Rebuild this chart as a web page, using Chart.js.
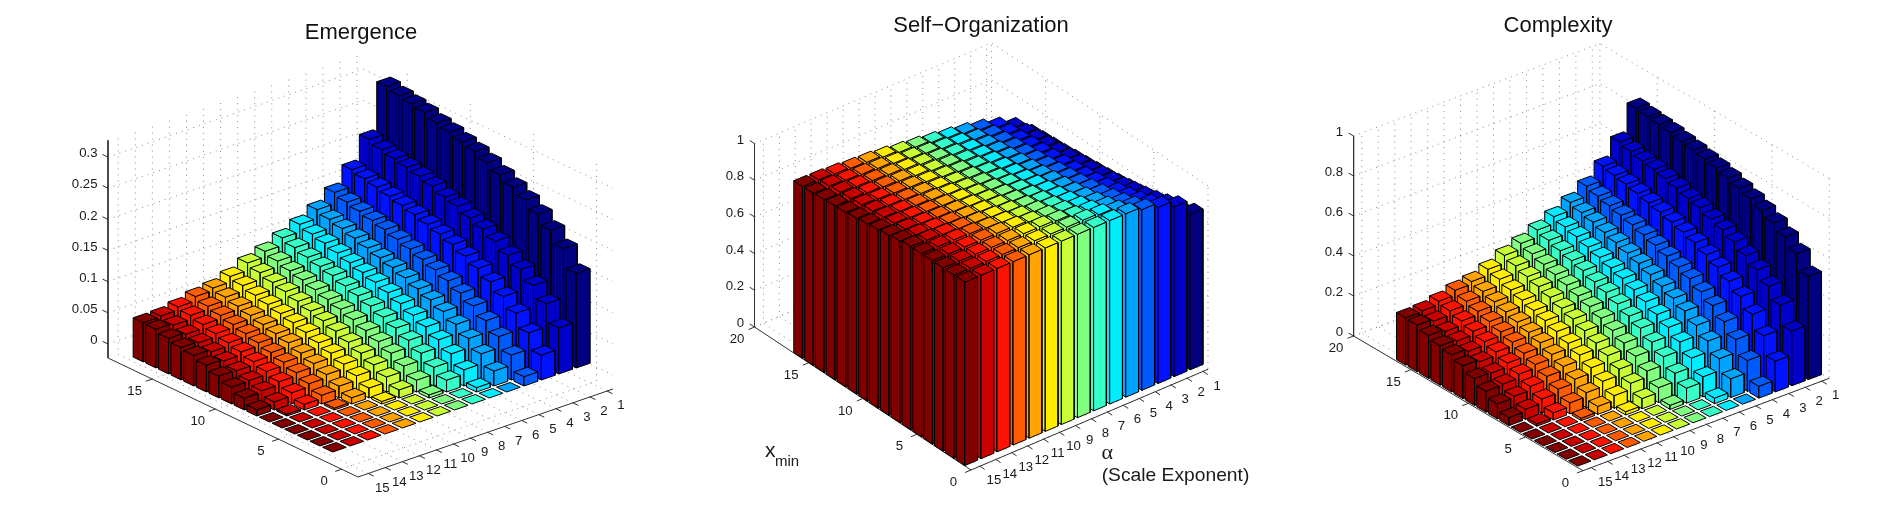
<!DOCTYPE html>
<html><head><meta charset="utf-8">
<style>html,body{margin:0;padding:0;background:#fff;width:1899px;height:524px;overflow:hidden}
.p{position:absolute;top:0;width:640px;height:524px}</style>
<script src="https://cdn.jsdelivr.net/npm/chart.js@4"></script></head>
<body>
<div class="p" style="left:41px"><canvas id="c1" width="640" height="524"></canvas></div>
<div class="p" style="left:661px"><canvas id="c2" width="640" height="524"></canvas></div>
<div class="p" style="left:1238px"><canvas id="c3" width="640" height="524"></canvas></div>
<script>
const alphaValues=[1,2,3,4,5,6,7,8,9,10,11,12,13,14,15];
const xminValues=[1,2,3,4,5,6,7,8,9,10,11,12,13,14,15,16];
const barColors=['#000080','#0000C8','#0012FF','#005BFF','#00A4FF','#00EDFF','#36FFC8','#80FF80','#C8FF36','#FFED00','#FFA400','#FF5B00','#FF1200','#C80000','#800000'];
// rows: alpha 1..15, columns: xmin 1..16
const emergence=[
[.152,.182,.202,.218,.231,.242,.252,.262,.27,.276,.282,.287,.294,.298,.302,.307],
[.074,.103,.123,.139,.152,.165,.175,.183,.192,.197,.205,.211,.216,.22,.225,.232],
[.04,.066,.088,.105,.119,.131,.141,.15,.157,.163,.169,.174,.179,.184,.188,.193],
[.015,.04,.06,.076,.09,.101,.111,.119,.126,.133,.139,.145,.15,.155,.16,.166],
[0,.024,.042,.057,.07,.081,.09,.098,.106,.113,.119,.125,.131,.137,.142,.148],
[0,.007,.026,.042,.055,.066,.075,.084,.092,.099,.105,.111,.117,.123,.128,.134],
[0,0,.019,.03,.043,.054,.064,.072,.08,.087,.093,.1,.105,.11,.116,.122],
[0,0,.005,.019,.032,.043,.052,.06,.068,.075,.081,.087,.093,.098,.104,.11],
[0,0,0,.013,.024,.034,.043,.051,.059,.066,.072,.078,.084,.089,.095,.101],
[0,0,0,.004,.016,.026,.035,.043,.05,.057,.063,.068,.073,.078,.084,.089],
[0,0,0,0,.01,.019,.028,.036,.043,.05,.055,.06,.065,.07,.075,.08],
[0,0,0,0,.003,.014,.023,.031,.038,.044,.05,.055,.06,.065,.07,.076],
[0,0,0,0,0,.009,.018,.026,.033,.039,.045,.05,.055,.06,.065,.069],
[0,0,0,0,0,.003,.013,.021,.028,.034,.04,.045,.05,.054,.059,.064],
[0,0,0,0,0,0,.01,.019,.027,.035,.043,.049,.052,.057,.062,.063]];
const selfOrganization=[
[.848,.818,.798,.782,.769,.758,.748,.738,.73,.724,.718,.713,.706,.702,.698,.693],
[.926,.897,.877,.861,.848,.835,.825,.817,.808,.803,.795,.789,.784,.78,.775,.768],
[.96,.934,.912,.895,.881,.869,.859,.85,.843,.837,.831,.826,.821,.816,.812,.807],
[.985,.96,.94,.924,.91,.899,.889,.881,.874,.867,.861,.855,.85,.845,.84,.834],
[1,.976,.958,.943,.93,.919,.91,.902,.894,.887,.881,.875,.869,.863,.858,.852],
[1,.993,.974,.958,.945,.934,.925,.916,.908,.901,.895,.889,.883,.877,.872,.866],
[1,1,.981,.97,.957,.946,.936,.928,.92,.913,.907,.9,.895,.89,.884,.878],
[1,1,.995,.981,.968,.957,.948,.94,.932,.925,.919,.913,.907,.902,.896,.89],
[1,1,1,.987,.976,.966,.957,.949,.941,.934,.928,.922,.916,.911,.905,.899],
[1,1,1,.996,.984,.974,.965,.957,.95,.943,.937,.932,.927,.922,.916,.911],
[1,1,1,1,.99,.981,.972,.964,.957,.95,.945,.94,.935,.93,.925,.92],
[1,1,1,1,.997,.986,.977,.969,.962,.956,.95,.945,.94,.935,.93,.924],
[1,1,1,1,1,.991,.982,.974,.967,.961,.955,.95,.945,.94,.935,.931],
[1,1,1,1,1,.997,.987,.979,.972,.966,.96,.955,.95,.946,.941,.936],
[1,1,1,1,1,1,.99,.981,.973,.965,.957,.951,.948,.943,.938,.937]];
const complexity=[
[.516,.596,.645,.682,.711,.734,.754,.773,.788,.799,.81,.819,.83,.837,.843,.851],
[.274,.37,.431,.479,.516,.551,.578,.598,.621,.633,.652,.666,.677,.686,.7,.713],
[.154,.247,.321,.376,.419,.455,.484,.51,.529,.546,.562,.575,.588,.601,.611,.623],
[.059,.154,.226,.281,.328,.363,.395,.419,.44,.461,.479,.496,.51,.524,.538,.554],
[0,.094,.161,.215,.26,.298,.328,.354,.379,.401,.419,.438,.455,.473,.487,.504],
[0,.028,.101,.161,.208,.247,.278,.308,.334,.357,.376,.395,.413,.431,.446,.464],
[0,0,.075,.116,.165,.204,.24,.267,.294,.318,.337,.36,.376,.392,.41,.428],
[0,0,.02,.075,.124,.165,.197,.226,.254,.278,.298,.318,.337,.354,.373,.392],
[0,0,0,.051,.094,.131,.165,.194,.222,.247,.267,.288,.308,.324,.344,.363],
[0,0,0,.016,.063,.101,.135,.165,.19,.215,.236,.253,.271,.288,.308,.324],
[0,0,0,0,.04,.075,.109,.139,.165,.19,.208,.226,.243,.26,.278,.294],
[0,0,0,0,.012,.055,.09,.12,.146,.168,.19,.208,.226,.243,.26,.281],
[0,0,0,0,0,.036,.071,.101,.128,.15,.172,.19,.208,.226,.243,.257],
[0,0,0,0,0,.012,.051,.082,.109,.131,.154,.172,.19,.204,.222,.24],
[0,0,0,0,0,0,.04,.075,.105,.135,.165,.186,.197,.215,.233,.236]];
const alphaTicks=[1,2,3,4,5,6,7,8,9,10,11,12,13,14,15];
const xminTicksShort=[0,5,10,15];
const xminTicksLong=[0,5,10,15,20];
const zTicksE=[0,.05,.1,.15,.2,.25,.3];
const zTicksUnit=[0,.2,.4,.6,.8,1];

// page layout of each 3-D box: F = front corner, L = left end, R = right end of the floor
const panels=[
 {id:'c1',left:41,title:'Emergence',padTop:20,values:emergence,xminTicks:xminTicksShort,zTicks:zTicksE,aStretch:1.02,
  F:[358,477],L:[108,358],R:[613,389],aLo:.65,aHi:15.6,xLo:-1.3,xHi:18.5,zLo:-.0225,zHi:.327,zPx:623},
 {id:'c2',left:661,title:'Self\u2212Organization',padTop:13,values:selfOrganization,xminTicks:xminTicksLong,zTicks:zTicksUnit,aStretch:1.01,
  F:[971,470],L:[754.5,327],R:[1208,369.3],aLo:.69,aHi:15.56,xLo:0,xHi:20,zLo:0,zHi:1,zPx:183.4,
  extra:[{t:'x',x:765,y:451,size:21},{t:'min',x:775,y:461.5,size:15},
         {t:'\u03B1',x:1101.5,y:453,size:22,font:'"Liberation Serif"'},{t:'(Scale Exponent)',x:1175.5,y:476,size:19.25}]},
 {id:'c3',left:1238,title:'Complexity',padTop:13,values:complexity,xminTicks:xminTicksLong,zTicks:zTicksUnit,aStretch:1,
  F:[1583,470.7],L:[1353.6,336],R:[1829.3,378.3],aLo:.54,aHi:15.5,xLo:0,xHi:20,zLo:0,zHi:1,zPx:200}
];
const HALF=.4, EDGE='#000000', AXIS='#303030', GRID='#8a8a8a', FONT='"Liberation Sans"', W=640, H=524;

function projector(p){
 const ax=(p.R[0]-p.F[0])/(p.aHi-p.aLo), ay=(p.R[1]-p.F[1])/(p.aHi-p.aLo);
 const bx=(p.L[0]-p.F[0])/(p.xHi-p.xLo), by=(p.L[1]-p.F[1])/(p.xHi-p.xLo);
 return (a,x,z)=>({x:p.F[0]+(p.aHi-a)*ax+(x-p.xLo)*bx, y:p.F[1]+(p.aHi-a)*ay+(x-p.xLo)*by-(z-p.zLo)*p.zPx});
}
function lineSet(points,color,width,dash){
 return {data:points,borderColor:color,borderWidth:width,borderDash:dash||[],pointRadius:0,fill:false,tension:0,clip:false};
}
function faceSet(points,color){
 return {data:points.concat([points[0]]),borderColor:EDGE,borderWidth:1,backgroundColor:color,fill:'shape',pointRadius:0,tension:0,clip:false,borderJoinStyle:'round'};
}
function buildDatasets(p){
 const P=projector(p), back=[], dots=[1,5];
 p.zTicks.forEach(z=>{
  back.push(lineSet([P(p.aHi,p.xHi,z),P(p.aLo,p.xHi,z),P(p.aLo,p.xLo,z)],GRID,1,dots));
 });
 alphaTicks.forEach(a=>{
  back.push(lineSet([P(a,p.xLo,p.zLo),P(a,p.xHi,p.zLo),P(a,p.xHi,p.zHi)],GRID,1,dots));
 });
 p.xminTicks.forEach(x=>{
  back.push(lineSet([P(p.aHi,x,p.zLo),P(p.aLo,x,p.zLo),P(p.aLo,x,p.zHi)],GRID,1,dots));
 });
 back.push(lineSet([P(p.aHi,p.xHi,p.zHi),P(p.aHi,p.xHi,p.zLo),P(p.aHi,p.xLo,p.zLo),P(p.aLo,p.xLo,p.zLo)],AXIS,1));
 const tk=(p.xHi-p.xLo)*.022, ta=(p.aHi-p.aLo)*.025;
 p.zTicks.forEach(z=>back.push(lineSet([P(p.aHi,p.xHi,z),P(p.aHi,p.xHi+tk,z)],AXIS,1)));
 alphaTicks.forEach(a=>back.push(lineSet([P(a,p.xLo,p.zLo),P(a,p.xLo-tk,p.zLo)],AXIS,1)));
 p.xminTicks.forEach(x=>back.push(lineSet([P(p.aHi,x,p.zLo),P(p.aHi+ta,x,p.zLo)],AXIS,1)));
 alphaValues.forEach((av,i)=>{
  const a=1+(av-1)*p.aStretch;
  for(let j=xminValues.length-1;j>=0;j--){
   const x=xminValues[j], z=p.values[i][j], c=barColors[i];
   const a0=a-HALF,a1=a+HALF,x0=x-HALF,x1=x+HALF;
   if(z>0){
    back.push(faceSet([P(a1,x0,0),P(a1,x1,0),P(a1,x1,z),P(a1,x0,z)],c));
    back.push(faceSet([P(a0,x0,0),P(a1,x0,0),P(a1,x0,z),P(a0,x0,z)],c));
   }
   back.push(faceSet([P(a0,x0,z),P(a1,x0,z),P(a1,x1,z),P(a0,x1,z)],c));
  }
 });
 return back.reverse(); // Chart.js paints the last dataset first
}
const textPlugin={id:'axisText',afterDatasetsDraw(chart,args,opts){
 const p=opts.panel,P=projector(p),ctx=chart.ctx,sx=chart.scales.x,sy=chart.scales.y;
 const put=(t,x,y,size,al,fam)=>{ctx.font=size+'px '+(fam||FONT);ctx.textAlign=al;ctx.textBaseline='middle';ctx.fillStyle='#1a1a1a';
  ctx.fillText(t,sx.getPixelForValue(x),sy.getPixelForValue(y));};
 ctx.save();
 p.zTicks.forEach(z=>{const q=P(p.aHi,p.xHi,z);put(String(z),q.x-10.5,q.y-3.5,13.2,'right');});
 alphaTicks.forEach(a=>{const q=P(a,p.xLo,p.zLo);put(String(a),q.x+14,q.y+14.5,13.2,'center');});
 p.xminTicks.forEach(x=>{const q=P(p.aHi,x,p.zLo);put(String(x),q.x-17.5,q.y+12.5,13.2,'center');});
 (p.extra||[]).forEach(e=>{const al=e.t[0]==='('?'center':'left';put(e.t,e.x,e.y,e.size,al,e.font);});
 ctx.restore();
}};
panels.forEach(p=>{
 const top=p.padTop+22*1.2;
 new Chart(document.getElementById(p.id),{
  type:'line',
  data:{datasets:buildDatasets(p)},
  plugins:[textPlugin],
  options:{responsive:false,animation:false,events:[],devicePixelRatio:1,
   layout:{padding:0},
   plugins:{legend:{display:false},tooltip:{enabled:false},axisText:{panel:p},
    title:{display:true,text:p.title,color:'#111',font:{family:FONT,size:22,weight:'normal',lineHeight:1.2},padding:{top:p.padTop,bottom:0}}},
   scales:{
    x:{type:'linear',display:false,bounds:'data',min:p.left,max:p.left+W},
    y:{type:'linear',display:false,bounds:'data',reverse:true,min:top,max:H}}
  }});
});
</script></body></html>
